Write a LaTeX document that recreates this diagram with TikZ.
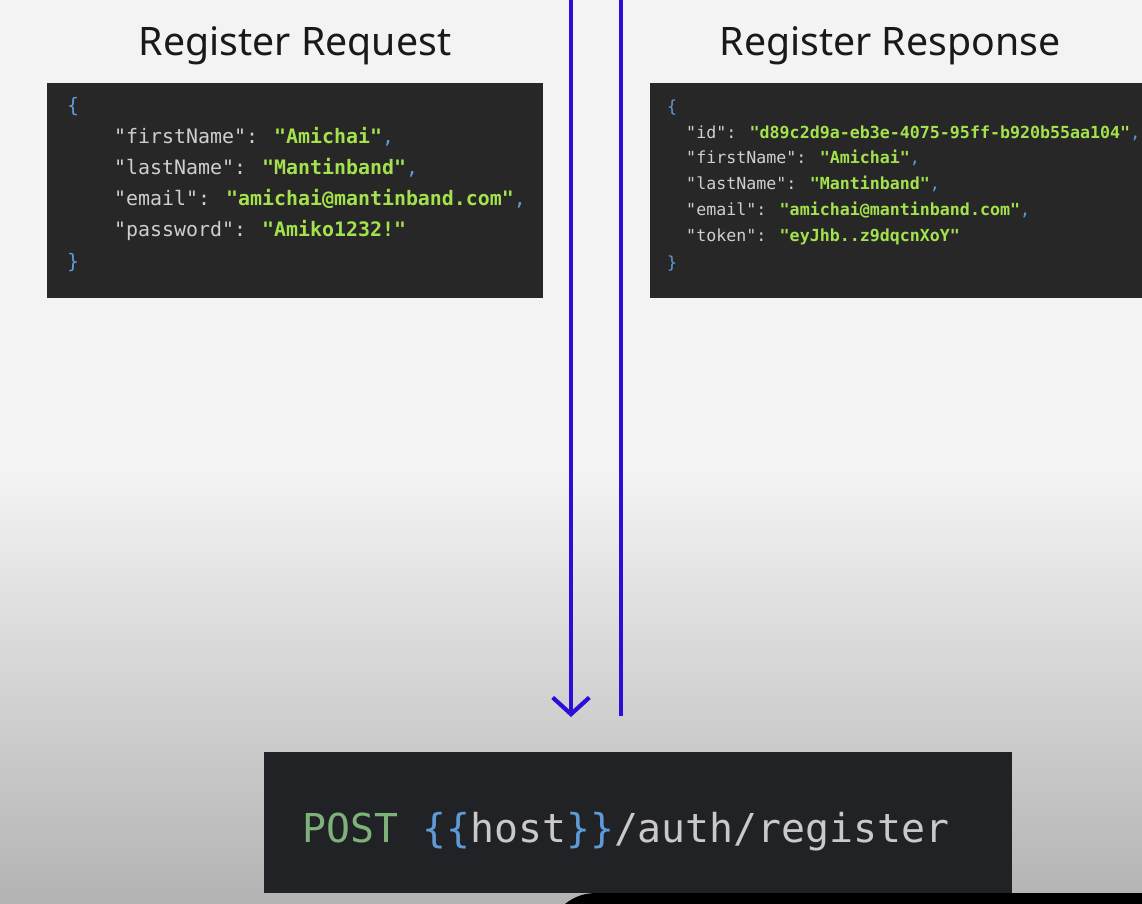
\documentclass[tikz,border=0pt]{standalone}
\usepackage{fontspec}
\setmainfont{Noto Sans}
\newfontfamily\codefont{DejaVu Sans Mono}
\usetikzlibrary{arrows.meta}

\definecolor{pagetop}{HTML}{F3F3F3}
\definecolor{pagebot}{HTML}{B3B3B3}
\definecolor{codebg}{HTML}{272727}
\definecolor{postbg}{HTML}{212226}
\definecolor{keygray}{HTML}{CFCFCF}
\definecolor{strgreen}{HTML}{A3E24C}
\definecolor{bracket}{HTML}{5E9BD6}
\definecolor{linkblue}{HTML}{2B0FD8}
\definecolor{postgreen}{HTML}{7FB27A}
\definecolor{urlgray}{HTML}{C9C9C9}

\newcommand{\jpair}[2]{\textcolor{keygray}{"#1":} \textcolor{strgreen}{\bfseries"#2"}}
\newcommand{\jcomma}{\textcolor{bracket}{,}}

\begin{document}
\begin{tikzpicture}[x=0.03cm, y=-0.03cm,
  title/.style={anchor=base, inner sep=0pt, text=black!90, font=\fontsize{33.5}{40}\selectfont},
  codebox/.style={anchor=north west, fill=codebg, inner sep=0pt},
  reqline/.style={anchor=base west, inner sep=0pt, font=\codefont\fontsize{17}{20}\selectfont},
  resline/.style={anchor=base west, inner sep=0pt, font=\codefont\fontsize{14.2}{17}\selectfont},
  flow/.style={draw=linkblue, line width=3.6pt}]
\useasboundingbox (0,0) rectangle (1142,904);
% page background
\fill[pagetop] (0,0) rectangle (1142,475);
\shade[top color=pagetop, bottom color=pagebot] (0,475) rectangle (1142,904);

% titles
\node[title] (reqtitle) at (295,56) {Register Request};
\node[title] (restitle) at (890,56) {Register Response};

% request body
\node[codebox, minimum width=14.88cm, minimum height=6.45cm] (reqbox) at (47,83) {};
\node[reqline] (req1) at (67,113) {\textcolor{bracket}{\{}};
\node[reqline] (req2) at (114,144) {\jpair{firstName}{Amichai}\jcomma};
\node[reqline] (req3) at (114,175) {\jpair{lastName}{Mantinband}\jcomma};
\node[reqline] (req4) at (114,206) {\jpair{email}{amichai@mantinband.com}\jcomma};
\node[reqline] (req5) at (114,237) {\jpair{password}{Amiko1232!}};
\node[reqline] (req6) at (67,269) {\textcolor{bracket}{\}}};

% response body
\node[codebox, minimum width=14.76cm, minimum height=6.45cm] (resbox) at (650,83) {};
\node[resline] (res1) at (667,113) {\textcolor{bracket}{\{}};
\node[resline] (res2) at (686,139) {\jpair{id}{d89c2d9a-eb3e-4075-95ff-b920b55aa104}\jcomma};
\node[resline] (res3) at (686,164) {\jpair{firstName}{Amichai}\jcomma};
\node[resline] (res4) at (686,190) {\jpair{lastName}{Mantinband}\jcomma};
\node[resline] (res5) at (686,216) {\jpair{email}{amichai@mantinband.com}\jcomma};
\node[resline] (res6) at (686,242) {\jpair{token}{eyJhb..z9dqcnXoY}};
\node[resline] (res7) at (667,269) {\textcolor{bracket}{\}}};

% endpoint
\node[codebox, fill=postbg, minimum width=22.44cm, minimum height=4.23cm] (postbox) at (264,752) {};
\node[anchor=base west, inner sep=0pt, text=urlgray, font=\codefont\fontsize{34}{40}\selectfont] (url) at (302,842)
  {\textcolor{postgreen}{POST} \textcolor{bracket}{\{\{}host\textcolor{bracket}{\}\}}/auth/register};
\fill[black] (565,904) .. controls (575,896) and (585,893) .. (597,893) -- (1142,893) -- (1142,904) -- cycle;

% request and response lines
\coordinate (reqtop) at (571,0);
\coordinate (reqend) at (571,717);
\coordinate (restop) at (621,0);
\coordinate (resend) at (621,716);
\draw[flow, -{Straight Barb[length=0.5cm, width=1.1cm]}] (reqtop) -- (reqend);
\draw[flow] (restop) -- (resend);
\end{tikzpicture}
\end{document}
